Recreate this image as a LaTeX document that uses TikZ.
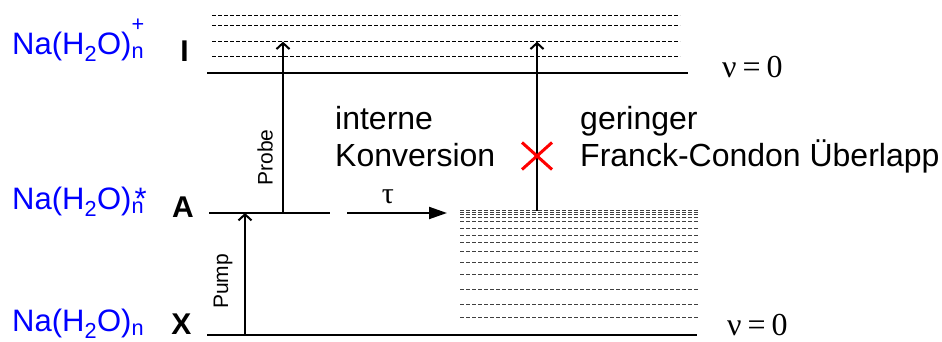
\documentclass[tikz,border=0pt]{standalone}
\usepackage{fontspec}
\setmainfont{Liberation Sans}
\newfontfamily\timesfont{Liberation Serif}
\usetikzlibrary{arrows.meta}
\newcommand\subsup[2]{\rlap{\raisebox{0.9ex}{\textsuperscript{#1}}}\textsubscript{#2}}
\newcommand\substar[1]{\rlap{\kern3pt*}\textsubscript{#1}}
\begin{document}
\begin{tikzpicture}[x=1pt,y=1pt,
 level/.style={line width=2.2pt},
 vib/.style={line width=0.8pt, dash pattern=on 4pt off 2pt},
 vibl/.style={line width=0.8pt, dash pattern=on 4pt off 2pt, black!75},
 trans/.style={line width=2pt, -{Straight Barb[length=6pt,width=13pt,line width=2pt]}},
 species/.style={anchor=base west, inner sep=0, text=blue, font=\fontsize{31}{31}\selectfont},
 state/.style={anchor=base, inner sep=0, font=\fontsize{30}{30}\selectfont\bfseries},
 note/.style={anchor=base west, inner sep=0, font=\fontsize{32}{37}\selectfont},
 quant/.style={anchor=base west, inner sep=0, font=\fontsize{32}{32}\timesfont},
 beam/.style={inner sep=0, rotate=90, font=\fontsize{21}{21}\selectfont}
]
\useasboundingbox (0,0) rectangle (942,342);
% vibrational levels of the ion
\foreach \y in {327,316.3,300.3,286} \draw[vib] (212,\y) -- (680,\y);
% vibrational ladder of hot X
\foreach \y in {131.3,129.3,127.7,124.7,120.3,114,107,99.3,90.3,79.3,68,53,38,24.7}
  \draw[vibl] (460,\y) -- (698,\y);
% electronic levels
\draw[level] (207,269) -- (688,269);
\draw[level] (209,129) -- (330,129);
\draw[level] (207,7) -- (697,7);
% labels
\node[species] (ion) at (12,287) {Na(H\textsubscript{2}O)\subsup{+}{n}};
\node[species] (exc) at (12,132) {Na(H\textsubscript{2}O)\substar{n}};
\node[species] (gnd) at (12,10) {Na(H\textsubscript{2}O)\textsubscript{n}};
\node[state] (sI) at (184.5,280) {I};
\node[state] (sA) at (183,124) {A};
\node[state] (sX) at (181.5,7) {X};
\node[quant] (v0top) at (722,264) {ν\kern6pt=\kern6pt0};
\node[quant] (v0bot) at (727,6) {ν\kern6pt=\kern6pt0};
\node[note] (ic1) at (335,212) {interne};
\node[note] (ic2) at (335,175) {Konversion};
\node[note] (fc1) at (580,212) {geringer};
\node[note] (fc2) at (580,175) {Franck-Condon Überlapp};
\node[inner sep=0, anchor=base, font=\fontsize{30}{30}\timesfont] (tau) at (388,138) {τ};
\node[beam] (probe) at (265,184.5) {Probe};
\node[beam] (pump) at (223,60.5) {Pump};
% transitions
\coordinate (pumpFrom) at (245,7);
\coordinate (pumpTo) at (245,129);
\coordinate (probeFrom) at (283,129);
\coordinate (probeTo) at (283,300.3);
\coordinate (hotFrom) at (537,131.3);
\coordinate (hotTo) at (537,300.3);
\coordinate (icFrom) at (347,129);
\coordinate (icTo) at (447,129);
\draw[trans] (pumpFrom) -- (pumpTo);
\draw[trans] (probeFrom) -- (probeTo);
\draw[trans] (hotFrom) -- (hotTo);
\draw[line width=2pt, -{Triangle[length=18pt,width=12pt]}] (icFrom) -- (icTo);
% red cross
\draw[red, line width=3pt] (522,172.5) -- (552,199.5) (522,199.5) -- (552,172.5);
\end{tikzpicture}
\end{document}
